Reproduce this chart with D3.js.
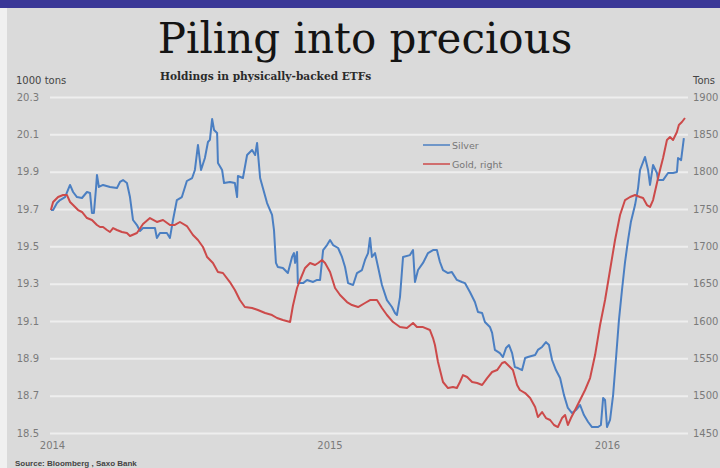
<!DOCTYPE html>
<html lang="en">
<head>
    <meta charset="utf-8" />
    <title>Piling into precious</title>
    <script src="https://cdnjs.cloudflare.com/ajax/libs/d3/7.8.5/d3.min.js"></script>
    <style>
        body { margin: 0; background: #dadada; }
        svg { display: block; }
        .tick text { font-family: "DejaVu Sans", sans-serif; font-size: 10px; fill: #7a7a7a; }
        .grid .tick line { stroke: #eeeeee; stroke-width: 2; }
        .domain { display: none; }
    </style>
</head>
<body>
<script>
    const W = 720, H = 468;

    // Silver holdings, 1000 tons (left axis); dates as fractional years
    const silverYears = [2013.996, 2014.004, 2014.018, 2014.029, 2014.047, 2014.065, 2014.076, 2014.090, 2014.108, 2014.126,
        2014.137, 2014.144, 2014.151, 2014.159, 2014.162, 2014.169, 2014.184, 2014.209, 2014.234, 2014.245,
        2014.256, 2014.270, 2014.281, 2014.292, 2014.306, 2014.317, 2014.328, 2014.353, 2014.371, 2014.378,
        2014.389, 2014.414, 2014.425, 2014.436, 2014.450, 2014.468, 2014.486, 2014.505, 2014.515, 2014.526,
        2014.537, 2014.551, 2014.562, 2014.569, 2014.577, 2014.584, 2014.595, 2014.598, 2014.613, 2014.620,
        2014.641, 2014.659, 2014.667, 2014.670, 2014.688, 2014.703, 2014.721, 2014.732, 2014.739, 2014.750,
        2014.760, 2014.775, 2014.793, 2014.800, 2014.807, 2014.814, 2014.832, 2014.850, 2014.865, 2014.872,
        2014.876, 2014.883, 2014.886, 2014.905, 2014.919, 2014.941, 2014.955, 2014.966, 2014.977, 2014.991,
        2015.002, 2015.013, 2015.031, 2015.045, 2015.056, 2015.067, 2015.085, 2015.099, 2015.117, 2015.128,
        2015.139, 2015.146, 2015.153, 2015.164, 2015.175, 2015.189, 2015.207, 2015.225, 2015.236, 2015.243,
        2015.254, 2015.265, 2015.290, 2015.301, 2015.308, 2015.319, 2015.337, 2015.355, 2015.373, 2015.387,
        2015.398, 2015.409, 2015.427, 2015.441, 2015.459, 2015.477, 2015.488, 2015.506, 2015.524, 2015.535,
        2015.550, 2015.560, 2015.578, 2015.586, 2015.596, 2015.614, 2015.625, 2015.636, 2015.647, 2015.658,
        2015.668, 2015.679, 2015.694, 2015.705, 2015.715, 2015.741, 2015.751, 2015.766, 2015.780, 2015.791,
        2015.802, 2015.816, 2015.831, 2015.845, 2015.859, 2015.874, 2015.888, 2015.903, 2015.917, 2015.932,
        2015.946, 2015.968, 2015.978, 2015.986, 2015.993, 2016.000, 2016.011, 2016.022, 2016.032, 2016.043,
        2016.054, 2016.065, 2016.076, 2016.086, 2016.101, 2016.112, 2016.119, 2016.137, 2016.148, 2016.155,
        2016.166, 2016.180, 2016.184, 2016.202, 2016.220, 2016.238, 2016.252, 2016.256, 2016.267, 2016.277];
    const silverValues = [19.695, 19.695, 19.732, 19.748, 19.764, 19.829, 19.791, 19.764, 19.759, 19.791,
        19.786, 19.679, 19.679, 19.818, 19.882, 19.818, 19.829, 19.818, 19.812, 19.845,
        19.855, 19.839, 19.764, 19.641, 19.614, 19.582, 19.598, 19.598, 19.598, 19.545,
        19.571, 19.571, 19.545, 19.641, 19.748, 19.764, 19.850, 19.866, 19.909, 20.043,
        19.909, 19.973, 20.059, 20.070, 20.182, 20.123, 20.107, 19.946, 19.909, 19.839,
        19.845, 19.839, 19.764, 19.877, 19.866, 19.989, 20.016, 19.989, 20.054, 19.866,
        19.812, 19.732, 19.668, 19.587, 19.411, 19.389, 19.384, 19.357, 19.443, 19.464,
        19.411, 19.470, 19.303, 19.303, 19.320, 19.309, 19.320, 19.320, 19.480, 19.507,
        19.534, 19.507, 19.491, 19.443, 19.389, 19.303, 19.293, 19.357, 19.373, 19.427,
        19.464, 19.545, 19.443, 19.464, 19.389, 19.293, 19.212, 19.175, 19.143, 19.132,
        19.228, 19.443, 19.453, 19.480, 19.309, 19.373, 19.411, 19.464, 19.480, 19.480,
        19.416, 19.373, 19.357, 19.362, 19.320, 19.309, 19.303, 19.255, 19.202, 19.148,
        19.143, 19.095, 19.068, 19.036, 18.945, 18.928, 18.907, 18.955, 18.971, 18.928,
        18.853, 18.848, 18.837, 18.902, 18.907, 18.918, 18.945, 18.961, 18.987, 18.971,
        18.891, 18.837, 18.795, 18.703, 18.634, 18.607, 18.623, 18.650, 18.596, 18.559,
        18.532, 18.532, 18.543, 18.687, 18.677, 18.532, 18.570, 18.703, 18.891, 19.105,
        19.266, 19.416, 19.534, 19.630, 19.721, 19.812, 19.909, 19.979, 19.909, 19.829,
        19.936, 19.893, 19.855, 19.855, 19.893, 19.893, 19.898, 19.973, 19.962, 20.080];

    // Gold holdings, tons (right axis)
    const goldYears = [2013.996, 2014.004, 2014.022, 2014.040, 2014.054, 2014.065, 2014.076, 2014.094, 2014.108, 2014.126,
        2014.144, 2014.162, 2014.173, 2014.184, 2014.198, 2014.209, 2014.220, 2014.234, 2014.252, 2014.270,
        2014.281, 2014.306, 2014.328, 2014.353, 2014.378, 2014.400, 2014.425, 2014.443, 2014.461, 2014.486,
        2014.508, 2014.526, 2014.544, 2014.559, 2014.580, 2014.598, 2014.616, 2014.641, 2014.659, 2014.677,
        2014.695, 2014.721, 2014.742, 2014.768, 2014.793, 2014.811, 2014.832, 2014.858, 2014.868, 2014.883,
        2014.894, 2014.912, 2014.930, 2014.948, 2014.959, 2014.973, 2014.984, 2015.002, 2015.020, 2015.038,
        2015.063, 2015.081, 2015.103, 2015.128, 2015.146, 2015.171, 2015.189, 2015.207, 2015.229, 2015.254,
        2015.279, 2015.301, 2015.315, 2015.337, 2015.362, 2015.373, 2015.380, 2015.391, 2015.409, 2015.427,
        2015.445, 2015.459, 2015.470, 2015.481, 2015.496, 2015.514, 2015.532, 2015.550, 2015.568, 2015.586,
        2015.604, 2015.622, 2015.632, 2015.643, 2015.661, 2015.676, 2015.686, 2015.705, 2015.723, 2015.741,
        2015.751, 2015.766, 2015.780, 2015.795, 2015.809, 2015.823, 2015.838, 2015.849, 2015.859, 2015.870,
        2015.885, 2015.903, 2015.921, 2015.939, 2015.957, 2015.975, 2015.993, 2016.011, 2016.029, 2016.047,
        2016.065, 2016.083, 2016.101, 2016.119, 2016.130, 2016.144, 2016.155, 2016.166, 2016.180, 2016.191,
        2016.202, 2016.216, 2016.227, 2016.238, 2016.252, 2016.259, 2016.270, 2016.281];
    const goldValues = [1748.6, 1759.4, 1766.1, 1768.7, 1768.7, 1759.4, 1755.3, 1748.6, 1746.0, 1737.9,
        1735.3, 1728.6, 1725.9, 1725.9, 1721.9, 1719.2, 1724.5, 1721.9, 1719.2, 1717.8,
        1713.8, 1717.8, 1729.9, 1737.9, 1732.6, 1735.3, 1728.6, 1728.6, 1732.6, 1727.2,
        1715.2, 1708.5, 1699.1, 1685.7, 1677.7, 1665.6, 1664.3, 1652.2, 1641.5, 1628.1,
        1618.7, 1617.4, 1614.7, 1610.7, 1608.0, 1604.0, 1601.3, 1598.6, 1620.1, 1644.2,
        1654.9, 1671.0, 1677.7, 1675.0, 1677.7, 1681.7, 1677.7, 1665.6, 1644.2, 1634.8,
        1625.4, 1621.4, 1618.7, 1624.1, 1628.1, 1628.1, 1617.4, 1608.0, 1598.6, 1591.9,
        1590.6, 1597.3, 1591.9, 1591.9, 1587.9, 1577.2, 1567.8, 1545.1, 1518.3, 1510.2,
        1511.6, 1510.2, 1518.3, 1527.6, 1525.0, 1518.3, 1516.9, 1514.3, 1523.6, 1531.7,
        1534.3, 1543.7, 1545.1, 1541.0, 1534.3, 1514.3, 1507.6, 1503.5, 1496.8, 1484.8,
        1471.4, 1478.1, 1470.0, 1467.4, 1460.7, 1458.0, 1470.0, 1474.1, 1460.7, 1470.0,
        1480.8, 1494.2, 1507.6, 1523.6, 1554.4, 1594.6, 1628.1, 1668.3, 1708.5, 1742.0,
        1762.0, 1766.1, 1768.7, 1766.1, 1764.7, 1755.3, 1752.7, 1762.0, 1784.8, 1802.2,
        1818.3, 1842.4, 1846.4, 1842.4, 1853.1, 1862.5, 1866.5, 1871.9];

    const leftTicks = [18.5, 18.7, 18.9, 19.1, 19.3, 19.5, 19.7, 19.9, 20.1, 20.3];
    const rightTicks = [1450, 1500, 1550, 1600, 1650, 1700, 1750, 1800, 1850, 1900];
    const yearTicks = [2014, 2015, 2016];

    const silver = silverYears.map((t, i) => ({ t: t, v: silverValues[i] }));
    const gold = goldYears.map((t, i) => ({ t: t, v: goldValues[i] }));

    const svg = d3.select("body").append("svg")
        .attr("width", W)
        .attr("height", H);

    // background pieces
    svg.append("rect").attr("width", W).attr("height", H).attr("fill", "#dadada");
    svg.append("rect").attr("x", 0).attr("y", 0).attr("width", 7).attr("height", H).attr("fill", "#f0f0f0");
    svg.append("rect").attr("x", 0).attr("y", 0).attr("width", W).attr("height", 8).attr("fill", "#3a3797");

    // scales
    const x = d3.scaleLinear().domain([2014, 2016]).range([52, 607]);
    const yL = d3.scaleLinear().domain([18.5, 20.3]).range([433, 97]);
    const yR = d3.scaleLinear().domain([1450, 1900]).range([433, 97]);

    const gridLeft = 50, gridRight = 688;

    // left axis with gridlines
    svg.append("g")
        .attr("class", "grid")
        .attr("transform", `translate(${gridLeft},0)`)
        .call(d3.axisLeft(yL).tickValues(leftTicks).tickFormat(d3.format(".1f"))
            .tickSize(-(gridRight - gridLeft)).tickPadding(11));

    // right axis
    svg.append("g")
        .attr("transform", `translate(${gridRight},0)`)
        .call(d3.axisRight(yR).tickValues(rightTicks).tickFormat(d3.format("d"))
            .tickSize(0).tickPadding(5));

    // bottom axis
    svg.append("g")
        .attr("transform", "translate(0,439)")
        .call(d3.axisBottom(x).tickValues(yearTicks).tickFormat(d3.format("d"))
            .tickSize(0).tickPadding(3));

    // lines
    const lineL = d3.line().x(d => x(d.t)).y(d => yL(d.v));
    const lineR = d3.line().x(d => x(d.t)).y(d => yR(d.v));

    svg.append("path").datum(silver)
        .attr("d", lineL)
        .attr("fill", "none")
        .attr("stroke", "#4b7fc2")
        .attr("stroke-width", 2)
        .attr("stroke-linejoin", "round");

    svg.append("path").datum(gold)
        .attr("d", lineR)
        .attr("fill", "none")
        .attr("stroke", "#cc4a4a")
        .attr("stroke-width", 2)
        .attr("stroke-linejoin", "round");

    // titles
    svg.append("text")
        .attr("x", 365).attr("y", 53)
        .attr("text-anchor", "middle")
        .style("font-family", "'DejaVu Serif', serif")
        .style("font-size", "42px")
        .style("fill", "#141414")
        .text("Piling into precious");

    svg.append("text")
        .attr("x", 160).attr("y", 80)
        .style("font-family", "'DejaVu Serif', serif")
        .style("font-size", "10.6px")
        .style("font-weight", "bold")
        .style("fill", "#2a2a2a")
        .text("Holdings in physically-backed ETFs");

    svg.append("text")
        .attr("x", 16).attr("y", 84)
        .style("font-family", "'DejaVu Sans', sans-serif")
        .style("font-size", "10px")
        .style("fill", "#444")
        .text("1000 tons");

    svg.append("text")
        .attr("x", 693).attr("y", 84)
        .style("font-family", "'DejaVu Sans', sans-serif")
        .style("font-size", "10px")
        .style("fill", "#444")
        .text("Tons");

    svg.append("text")
        .attr("x", 15).attr("y", 466)
        .style("font-family", "'Liberation Sans', sans-serif")
        .style("font-size", "8px")
        .style("font-weight", "bold")
        .style("fill", "#444")
        .text("Source: Bloomberg , Saxo Bank");

    // legend
    const legendItems = [
        { name: "Silver", color: "#4b7fc2" },
        { name: "Gold, right", color: "#cc4a4a" }
    ];
    const legend = svg.append("g").attr("transform", "translate(423,145)");
    legendItems.forEach((d, i) => {
        legend.append("line")
            .attr("x1", 0).attr("x2", 27)
            .attr("y1", i * 19).attr("y2", i * 19)
            .attr("stroke", d.color)
            .attr("stroke-width", 1.5);
        legend.append("text")
            .attr("x", 29).attr("y", i * 19 + 3.5)
            .style("font-family", "'DejaVu Sans', sans-serif")
            .style("font-size", "9.5px")
            .style("fill", "#777")
            .text(d.name);
    });
</script>
</body>
</html>
